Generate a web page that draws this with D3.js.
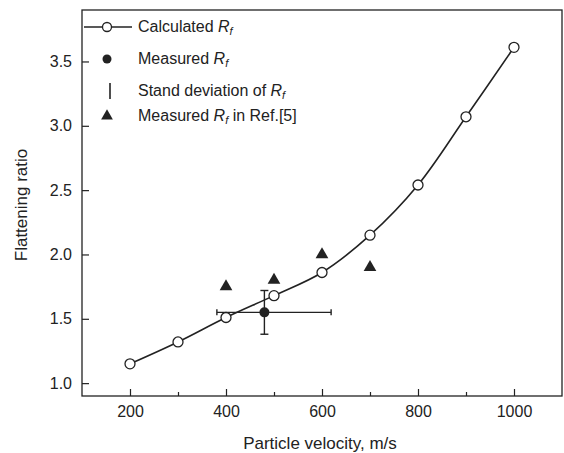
<!DOCTYPE html>
<html>
<head>
<meta charset="utf-8">
<script src="https://cdn.jsdelivr.net/npm/d3@7"></script>
<style>
  body { margin: 0; background: #fff; }
  text { font-family: Arial, "Liberation Sans", sans-serif; fill: #222; }
</style>
</head>
<body>
<div id="chart"></div>
<script>
'use strict';

// calculated flattening ratio
var calcVelocity = [200, 300, 400, 500, 600, 700, 800, 900, 1000];
var calcRatio    = [1.15, 1.32, 1.51, 1.68, 1.86, 2.15, 2.54, 3.07, 3.61];

// measured value with standard deviation
var measVelocity = [480];
var measRatio    = [1.55];
var measVelLow   = [381];
var measVelHigh  = [619];
var measRatioLow = [1.38];
var measRatioHigh= [1.72];

// Ref.[5]
var refVelocity = [400, 500, 600, 700];
var refRatio    = [1.75, 1.80, 2.00, 1.90];

var xTicks = [200, 400, 600, 800, 1000];
var xMinor = [300, 500, 700, 900];
var yTicks = [1.0, 1.5, 2.0, 2.5, 3.0, 3.5];

var width = 564, height = 453;
var m = {left: 82, right: 2, top: 10, bottom: 57};
var w = width - m.left - m.right, h = height - m.top - m.bottom;

var svg = d3.select('#chart').append('svg')
    .attr('width', width).attr('height', height);
var g = svg.append('g').attr('transform', 'translate(' + m.left + ',' + m.top + ')');

var x = d3.scaleLinear().domain([100, 1100]).range([0, w]);
var y = d3.scaleLinear().domain([0.9, 3.9]).range([h, 0]);

var ink = '#222';

// frame
g.append('rect').attr('width', w).attr('height', h)
    .attr('fill', 'none').attr('stroke', ink).attr('stroke-width', 1.3);

// axes, ticks pointing inward
g.append('g').attr('transform', 'translate(0,' + h + ')')
    .call(d3.axisBottom(x).tickValues(xTicks).tickSizeInner(-7).tickSizeOuter(0).tickPadding(10).tickFormat(d3.format('d')));
g.append('g').attr('transform', 'translate(0,' + h + ')')
    .call(d3.axisBottom(x).tickValues(xMinor).tickSizeInner(-4).tickSizeOuter(0).tickFormat(''));
g.append('g')
    .call(d3.axisLeft(y).tickValues(yTicks).tickSizeInner(-7).tickSizeOuter(0).tickPadding(10).tickFormat(d3.format('.1f')));

g.selectAll('.domain').remove();
g.selectAll('.tick line').attr('stroke', ink).attr('stroke-width', 1.2);
g.selectAll('.tick text').attr('font-size', 16).attr('fill', ink)
    .style('font-family', 'Arial, "Liberation Sans", sans-serif');

// axis titles
svg.append('text').attr('x', m.left + w / 2 - 2).attr('y', 449)
    .attr('text-anchor', 'middle').attr('font-size', 17).text('Particle velocity, m/s');
svg.append('text').attr('transform', 'translate(27,205) rotate(-90)')
    .attr('text-anchor', 'middle').attr('font-size', 17).text('Flattening ratio');

// calculated line
var calc = calcVelocity.map(function(v, i) { return {x: v, y: calcRatio[i]}; });
var line = d3.line().x(function(d) { return x(d.x); }).y(function(d) { return y(d.y); })
    .curve(d3.curveCatmullRom.alpha(0.5));
g.append('path').datum(calc).attr('d', line)
    .attr('fill', 'none').attr('stroke', ink).attr('stroke-width', 1.6);

// error bars
var bars = g.append('g').attr('stroke', ink).attr('stroke-width', 1.4);
measVelocity.forEach(function(v, i) {
    bars.append('line').attr('x1', x(measVelLow[i])).attr('x2', x(measVelHigh[i]))
        .attr('y1', y(measRatio[i])).attr('y2', y(measRatio[i]));
    bars.append('line').attr('x1', x(v)).attr('x2', x(v))
        .attr('y1', y(measRatioLow[i])).attr('y2', y(measRatioHigh[i]));
    [measVelLow[i], measVelHigh[i]].forEach(function(e) {
        bars.append('line').attr('x1', x(e)).attr('x2', x(e))
            .attr('y1', y(measRatio[i]) - 3).attr('y2', y(measRatio[i]) + 3);
    });
    [measRatioLow[i], measRatioHigh[i]].forEach(function(e) {
        bars.append('line').attr('x1', x(v) - 4).attr('x2', x(v) + 4)
            .attr('y1', y(e)).attr('y2', y(e));
    });
});

// calculated markers
g.selectAll('.calc').data(calc).enter().append('circle')
    .attr('cx', function(d) { return x(d.x); })
    .attr('cy', function(d) { return y(d.y); })
    .attr('r', 5).attr('fill', '#fff').attr('stroke', ink).attr('stroke-width', 1.3);

// measured marker
g.selectAll('.meas').data(measVelocity).enter().append('circle')
    .attr('cx', function(d) { return x(d); })
    .attr('cy', function(d, i) { return y(measRatio[i]); })
    .attr('r', 5).attr('fill', ink);

// ref triangles
var tri = d3.symbol().type(d3.symbolTriangle).size(70);
g.selectAll('.ref').data(refVelocity).enter().append('path')
    .attr('d', tri)
    .attr('transform', function(d, i) { return 'translate(' + x(d) + ',' + y(refRatio[i]) + ')'; })
    .attr('fill', ink);

// legend
var lg = svg.append('g');
var rows = [27, 59, 91, 116];
var tx = 138;
lg.append('line').attr('x1', 84).attr('x2', 132).attr('y1', rows[0]).attr('y2', rows[0])
    .attr('stroke', ink).attr('stroke-width', 1.4);
lg.append('circle').attr('cx', 107).attr('cy', rows[0]).attr('r', 4.5)
    .attr('fill', '#fff').attr('stroke', ink).attr('stroke-width', 1.3);
lg.append('circle').attr('cx', 107).attr('cy', rows[1]).attr('r', 4.5).attr('fill', ink);
lg.append('line').attr('x1', 110).attr('x2', 110).attr('y1', rows[2] - 8).attr('y2', rows[2] + 8)
    .attr('stroke', ink).attr('stroke-width', 1.6);
lg.append('path').attr('d', d3.symbol().type(d3.symbolTriangle).size(60))
    .attr('transform', 'translate(107,' + rows[3] + ')').attr('fill', ink);

function rfLabel(yy, pre, post) {
    var t = lg.append('text').attr('x', tx).attr('y', yy + 5).attr('font-size', 16);
    t.append('tspan').text(pre);
    t.append('tspan').attr('font-style', 'italic').text('R');
    t.append('tspan').attr('font-size', 11).attr('font-style', 'italic').attr('dy', 3).text('f');
    if (post) t.append('tspan').attr('dy', -3).text(post);
}
rfLabel(rows[0], 'Calculated ');
rfLabel(rows[1], 'Measured ');
rfLabel(rows[2], 'Stand deviation of ');
rfLabel(rows[3], 'Measured ', ' in Ref.[5]');
</script>
</body>
</html>
